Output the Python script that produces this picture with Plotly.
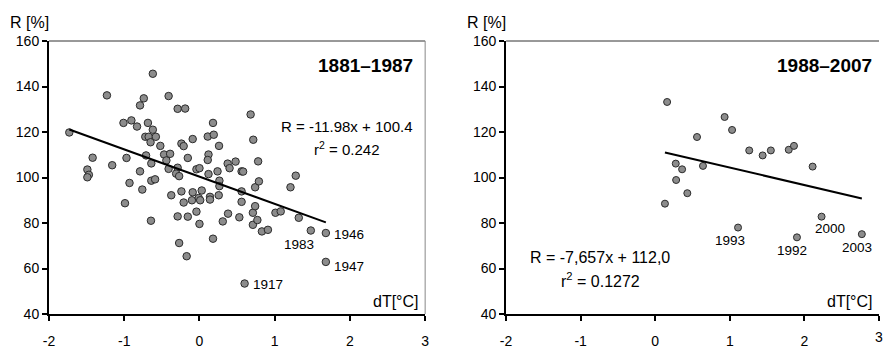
import plotly.graph_objects as go

# ---------------- data ----------------
# Period 1881-1987
dT_1881 = [-1.73, -1.49, -1.47, -1.49, -1.42, -1.23, -1.16, -1.01, -0.97, -0.905,
           -0.83, -0.79, -0.79, -0.74, -0.72, -0.685, -0.675, -0.65, -0.71, -0.64,
           -0.62, -0.62, -0.58, -0.64, -0.59, -0.52, -0.47, -0.44, -0.41, -0.39,
           -0.41, -0.29, -0.19, -0.29, -0.31, -0.27, -0.24, -0.21, -0.155, -0.09,
           -0.04, 0.00, 0.11, 0.19, 0.18, 0.12, 0.11, 0.26, 0.12, 0.24,
           0.375, 0.40, 0.48, 0.56, 0.58, 0.68, 0.715, 0.78, 1.28,
           -0.93, -0.99, -0.76, -0.645, -0.375, -0.29, -0.27, -0.24, -0.21, -0.155,
           -0.17, -0.10, -0.09, -0.04, -0.01, 0.01, 0.03, 0.00, 0.14, 0.14,
           0.18, 0.265, 0.265, 0.256, 0.31, 0.38, 0.53, 0.56, 0.56, 0.71,
           0.74, 0.71, 0.77, 0.83, 0.91, 0.74, 0.79, 1.01, 1.08, 1.21,
           1.32, 1.48, 1.68, 1.68, 0.60]
R_1881 = [119.8, 103.5, 101.2, 100.1, 108.7, 136.1, 105.4, 124.0, 108.6, 125.1,
          122.4, 131.7, 102.7, 134.8, 117.9, 124.0, 117.9, 115.5, 109.7, 106.2,
          145.6, 121.0, 117.9, 98.6, 99.2, 113.9, 110.1, 107.5, 135.8, 110.4,
          103.8, 130.2, 130.3, 104.3, 101.7, 100.6, 114.9, 113.8, 108.6, 116.9,
          103.6, 104.1, 118.0, 118.8, 124.0, 110.1, 107.7, 113.9, 101.5, 102.7,
          106.1, 104.1, 107.0, 102.7, 102.6, 127.7, 116.6, 107.1, 100.8,
          97.6, 88.7, 94.7, 81.0, 92.2, 82.9, 71.2, 93.9, 89.0, 82.8,
          65.4, 90.0, 93.5, 85.0, 91.0, 90.0, 94.3, 79.6, 91.5, 90.3,
          73.1, 98.6, 96.2, 92.2, 80.7, 84.1, 82.5, 93.9, 89.3, 84.5,
          87.4, 79.2, 81.3, 76.3, 77.0, 95.7, 98.3, 84.5, 85.1, 95.7,
          82.3, 76.7, 75.6, 62.9, 53.4]
labels_1881_year = ["1983", "1946", "1947", "1917"]
labels_1881_index = [100, 101, 102, 103]
slope_1881, intercept_1881 = -11.98, 100.4

# Period 1988-2007
dT_1988 = [0.159, 0.93, 1.03, 0.56, 1.26, 1.44, 1.55, 1.79, 1.86, 2.11,
           0.275, 0.36, 0.64, 0.28, 0.43, 0.13, 1.11, 1.90, 2.23, 2.77]
R_1988 = [133.2, 126.6, 120.9, 117.8, 111.9, 109.7, 111.9, 112.2, 113.9, 104.8,
          106.1, 103.6, 105.1, 98.9, 93.1, 88.5, 78.0, 73.7, 82.8, 75.1]
labels_1988_year = ["1993", "1992", "2000", "2003"]
labels_1988_index = [16, 17, 18, 19]
slope_1988, intercept_1988 = -7.657, 112.0

x_ticks = [-2, -1, 0, 1, 2, 3]
x_tick_labels = ["-2", "-1", "0", "1", "2", "3"]
y_ticks = [40, 60, 80, 100, 120, 140, 160]

# ---------------- figure ----------------
FONT = "Arial, Liberation Sans, sans-serif"
fig = go.Figure()

marker_style = dict(color="#8c8c8c", line=dict(color="#2b2b2b", width=1))

fig.add_trace(go.Scatter(x=dT_1881, y=R_1881, mode="markers",
                         marker=dict(size=7.5, **marker_style),
                         xaxis="x", yaxis="y", showlegend=False))
xl = [min(dT_1881), max(dT_1881)]
fig.add_trace(go.Scatter(x=xl, y=[slope_1881 * v + intercept_1881 for v in xl],
                         mode="lines", line=dict(color="black", width=2),
                         xaxis="x", yaxis="y", showlegend=False))

fig.add_trace(go.Scatter(x=dT_1988, y=R_1988, mode="markers",
                         marker=dict(size=7, **marker_style),
                         xaxis="x2", yaxis="y2", showlegend=False))
xr = [min(dT_1988), max(dT_1988)]
fig.add_trace(go.Scatter(x=xr, y=[slope_1988 * v + intercept_1988 for v in xr],
                         mode="lines", line=dict(color="black", width=2),
                         xaxis="x2", yaxis="y2", showlegend=False))

axis_common = dict(showline=True, linecolor="black", linewidth=2,
                   ticks="outside", ticklen=5, tickwidth=1.5, tickcolor="black",
                   showgrid=False, zeroline=False,
                   tickfont=dict(family=FONT, size=14, color="black"))

fig.update_layout(
    width=883, height=349,
    margin=dict(l=49, r=0, t=41, b=30),
    paper_bgcolor="white", plot_bgcolor="white",
    xaxis=dict(domain=[0, 0.4532], range=[-2, 3], tickvals=x_ticks, ticktext=x_tick_labels,
               anchor="y", ticklabelstandoff=8, **axis_common),
    yaxis=dict(domain=[0, 1], range=[40, 160], tickvals=y_ticks, anchor="x",
               **axis_common),
    xaxis2=dict(domain=[0.5507, 1], range=[-2, 3], tickvals=x_ticks, ticktext=x_tick_labels,
                anchor="y2", ticklabelstandoff=8, **axis_common),
    yaxis2=dict(domain=[0, 1], range=[40, 160], tickvals=y_ticks, anchor="x2",
                **axis_common),
)

# box borders (top/right)
fig.add_shape(type="line", xref="x domain", yref="y domain", x0=0, x1=1, y0=1, y1=1,
              line=dict(color="#333333", width=1))
fig.add_shape(type="line", xref="x domain", yref="y domain", x0=1, x1=1, y0=0, y1=1,
              line=dict(color="#888888", width=1))
fig.add_shape(type="line", xref="x2 domain", yref="y2 domain", x0=0, x1=1, y0=1, y1=1,
              line=dict(color="#333333", width=1))

ann = []
def txt(text, x, y, xref, yref, size, xanchor="center", yanchor="middle", bold=False, **kw):
    d = dict(text=("<b>%s</b>" % text) if bold else text, x=x, y=y, xref=xref, yref=yref,
             showarrow=False, xanchor=xanchor, yanchor=yanchor,
             font=dict(family=FONT, size=size, color="black"))
    d.update(kw)
    ann.append(d)

PH = 278.0  # plot height in px
def py(pix):  # pixel y (from top of figure) -> paper y
    return (319 - pix) / PH

def px(pix):  # pixel x -> paper x
    return (pix - 49) / 834.0

for xa in ["x", "x2"]:
    txt("R [%]", 0, py(22), xa + " domain", "paper", 16, xanchor="right", xshift=2)
txt("dT[°C]", 1, py(306.5), "x domain", "paper", 16, xanchor="right", xshift=-4)
txt("dT[°C]", 1, py(306), "x2 domain", "paper", 16, xanchor="right", xshift=-4)

txt("1881–1987", 1, py(65.5), "x domain", "paper", 19, xanchor="right", bold=True, xshift=-10)
txt("1988–2007", 1, py(65.5), "x2 domain", "paper", 19, xanchor="right", bold=True, xshift=-5)

txt("R = -11.98x + 100.4", px(348), py(128), "paper", "paper", 15)
txt("r<sup>2</sup> = 0.242", px(348), py(150), "paper", "paper", 15)
txt("R = -7,657x + 112,0", px(603), py(261), "paper", "paper", 16)
txt("r<sup>2</sup> = 0.1272", px(603), py(284.5), "paper", "paper", 16)

# last tick label of the right panel, partially cut by the figure edge
txt(x_tick_labels[-1], x_ticks[-1], py(342), "x2", "paper", 14)

# year labels on points
offs_left = {"1983": (-12, -14, "center"), "1946": (6, -1, "left"),
             "1947": (6, -5, "left"), "1917": (6, -1, "left")}
for yr, i in zip(labels_1881_year, labels_1881_index):
    dx, dy, xa = offs_left[yr]
    ann.append(dict(text=yr, x=dT_1881[i], y=R_1881[i], xref="x", yref="y",
                    showarrow=False, xanchor=xa, yanchor="middle",
                    xshift=dx, yshift=dy,
                    font=dict(family=FONT, size=13.5, color="black")))
offs_right = {"1993": (-8, -13), "1992": (-5, -13), "2000": (8, -12), "2003": (-5, -13)}
for yr, i in zip(labels_1988_year, labels_1988_index):
    dx, dy = offs_right[yr]
    ann.append(dict(text=yr, x=dT_1988[i], y=R_1988[i], xref="x2", yref="y2",
                    showarrow=False, xanchor="center", yanchor="middle",
                    xshift=dx, yshift=dy,
                    font=dict(family=FONT, size=13.5, color="black")))

fig.update_layout(annotations=ann)
fig.write_html("out.html",
               config={"displayModeBar": False},
               post_script="document.body.style.margin='0';"
                           "document.body.style.padding='0';"
                           "document.body.style.overflow='hidden';")
